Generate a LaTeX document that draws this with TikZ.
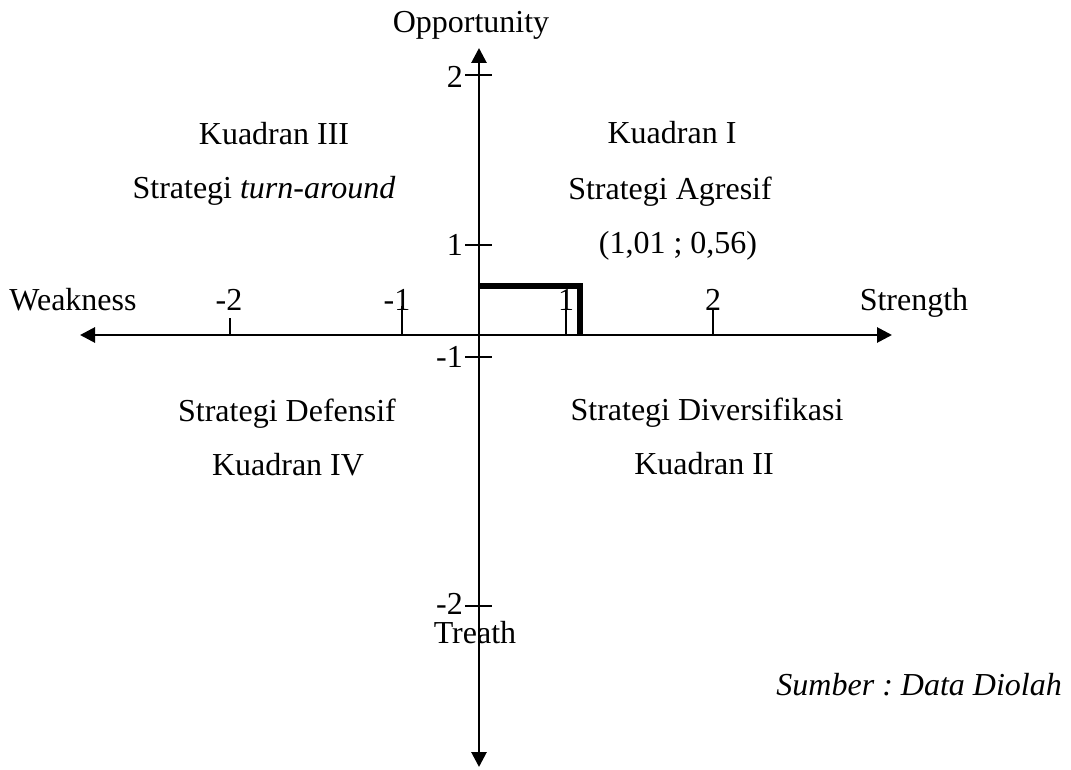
\documentclass[tikz,border=0pt]{standalone}
\usepackage{fontspec}
\setmainfont{Liberation Serif}
\usetikzlibrary{arrows.meta}
\begin{document}
\begin{tikzpicture}[x=1pt,y=-1pt,
  axis/.style={line width=2.8pt,-{Triangle[length=15pt,width=15pt]}},
  tick/.style={line width=2.2pt},
  bar/.style={line width=5.5pt},
  lbl/.style={inner sep=0pt,anchor=base,font=\fontsize{32}{38}\selectfont\frenchspacing},
  ylbl/.style={lbl,anchor=base east}]
\useasboundingbox (0,0) rectangle (1071,770);

% origin and axis ends
\coordinate (O) at (479,335);
\coordinate (W) at (80,335);
\coordinate (S) at (892,335);
\coordinate (N) at (479,48);
\coordinate (T) at (479,767);

% axes
\draw[axis] (O) -- (W);
\draw[axis] (O) -- (S);
\draw[axis] (O) -- (N);
\draw[axis] (O) -- (T);

% ticks on the vertical axis
\coordinate (y2a) at (465,75);  \coordinate (y2b) at (492,75);
\coordinate (y1a) at (465,245); \coordinate (y1b) at (492,245);
\coordinate (ym1a) at (465,357); \coordinate (ym1b) at (492,357);
\coordinate (ym2a) at (465,606); \coordinate (ym2b) at (492,606);
\draw[tick] (y2a) -- (y2b);
\draw[tick] (y1a) -- (y1b);
\draw[tick] (ym1a) -- (ym1b);
\draw[tick] (ym2a) -- (ym2b);

% ticks on the horizontal axis
\coordinate (xm2a) at (230,318); \coordinate (xm2b) at (230,335);
\coordinate (xm1a) at (402,306); \coordinate (xm1b) at (402,335);
\coordinate (x1a) at (566,290);  \coordinate (x1b) at (566,335);
\coordinate (x2a) at (713,310);  \coordinate (x2b) at (713,335);
\draw[tick] (xm2a) -- (xm2b);
\draw[tick] (xm1a) -- (xm1b);
\draw[tick] (x1a) -- (x1b);
\draw[tick] (x2a) -- (x2b);

% position of the result
\coordinate (P0) at (479,286);
\coordinate (P1) at (580,286);
\coordinate (P2) at (580,335);
\draw[bar] (P0) -- (P1) -- (P2);

% axis labels
\node[lbl] (opp) at (471,33) {Opportunity};
\node[lbl] (weak) at (73,310) {Weakness};
\node[lbl] (str) at (914,310) {Strength};
\node[lbl] (tre) at (475,643) {Treath};

% vertical scale
\node[ylbl] (l2) at (463,88) {2};
\node[ylbl] (l1) at (463,255) {1};
\node[ylbl] (lm1) at (463,367) {-1};
\node[ylbl] (lm2) at (463,614) {-2};

% horizontal scale
\node[lbl] (hm2) at (229,310) {-2};
\node[lbl] (hm1) at (397,310) {-1};
\node[lbl] (h1) at (566,310) {1};
\node[lbl] (h2) at (713,310) {2};

% quadrants
\node[lbl] (q3a) at (274,145) {Kuadran III};
\node[lbl] (q3b) at (264,199) {Strategi \textit{turn-around}};
\node[lbl] (q1a) at (672,144) {Kuadran I};
\node[lbl] (q1b) at (670,200) {Strategi Agresif};
\node[lbl] (pt) at (678,254) {(1,01 ; 0,56)};
\node[lbl] (q4a) at (287,421) {Strategi Defensif};
\node[lbl] (q4b) at (288,475) {Kuadran IV};
\node[lbl] (q2a) at (707,420) {Strategi Diversifikasi};
\node[lbl] (q2b) at (704,474) {Kuadran II};

% source
\node[lbl,anchor=base east] (src) at (1062,695) {\textit{Sumber : Data Diolah}};
\end{tikzpicture}
\end{document}
